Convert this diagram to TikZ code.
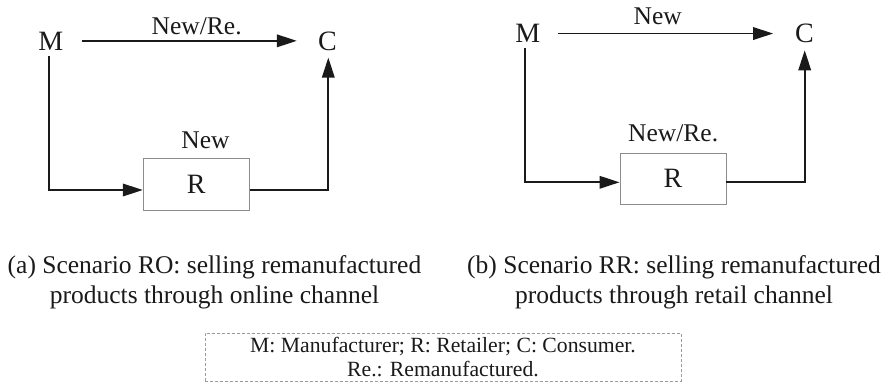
\documentclass[tikz,border=0pt]{standalone}
\usepackage{fontspec}
\setmainfont{Liberation Serif}
\usetikzlibrary{arrows.meta}
\definecolor{ink}{HTML}{1A1A1A}
\definecolor{boxgray}{HTML}{8C8C8C}
\definecolor{dashgray}{HTML}{9A9A9A}
\tikzset{
  party/.style={inner sep=0pt, outer sep=0pt, anchor=base, text=ink, font=\fontsize{28}{30}\selectfont},
  lbl/.style={inner sep=0pt, anchor=base, text=ink, font=\fontsize{25.5}{28}\selectfont},
  retailbox/.style={draw=boxgray, line width=0.9pt, minimum width=106pt, minimum height=51.5pt, inner sep=0pt, text=ink, font=\fontsize{28}{30}\selectfont},
  conn/.style={draw=ink, line width=1.8pt, -{Triangle[length=20pt,width=12.5pt]}},
  caption/.style={inner sep=0pt, align=center, text=ink, font=\fontsize{25.5}{30}\selectfont},
  legend/.style={draw=dashgray, line width=0.9pt, dash pattern=on 3pt off 2pt, minimum width=476pt, minimum height=48pt, inner sep=0pt, align=center, text=ink, font=\fontsize{21.7}{24}\selectfont}
}
\begin{document}
\begin{tikzpicture}[x=1pt,y=-1pt]
\useasboundingbox (0,0) rectangle (894,383);
% ---------- (a) ----------
\node[party] (Ma) at (50.8,50) {M};
\node[party] (Ca) at (327.5,50) {C};
\node[retailbox] (Ra) at (196.3,184.2) {R};
\node[lbl] (la1) at (196.7,34) {New/Re.};
\node[lbl] (la2) at (205.5,148) {New};
\draw[conn, shorten <=18.5pt, shorten >=21.3pt] (Ma.east) -- (Ma.east -| Ca.west);
\draw[conn, shorten <=6pt] ([xshift=-1.8pt]Ma.south) |- ([yshift=-5.8pt]Ra.west);
\draw[conn, shorten >=7.3pt] ([yshift=-5.8pt]Ra.east) -| ([xshift=0.8pt]Ca.south);
% ---------- (b) ----------
\node[party] (Mb) at (527.8,42.7) {M};
\node[party] (Cb) at (804.5,42.7) {C};
\node[retailbox] (Rb) at (673,178.7) {R};
\node[lbl] (lb1) at (657.8,24.3) {New};
\node[lbl] (lb2) at (673.2,141.7) {New/Re.};
\draw[conn, shorten <=17.8pt, shorten >=22pt] (Mb.east) -- (Mb.east -| Cb.west);
\draw[conn, shorten <=5.6pt] ([xshift=-2.5pt]Mb.south) |- ([yshift=-3.6pt]Rb.west);
\draw[conn, shorten >=7.3pt] ([yshift=-3.6pt]Rb.east) -| ([xshift=0.2pt]Cb.south);
% ---------- captions ----------
\node[caption] (capa) at (214.5,281.9) {(a) Scenario RO: selling remanufactured\\products through online channel};
\node[caption] (capb) at (674,281.9) {(b) Scenario RR: selling remanufactured\\products through retail channel};
% ---------- legend ----------
\node[legend] (leg) at (443,357) {M: Manufacturer; R: Retailer; C: Consumer.\\Re.: Remanufactured.};
\end{tikzpicture}
\end{document}
